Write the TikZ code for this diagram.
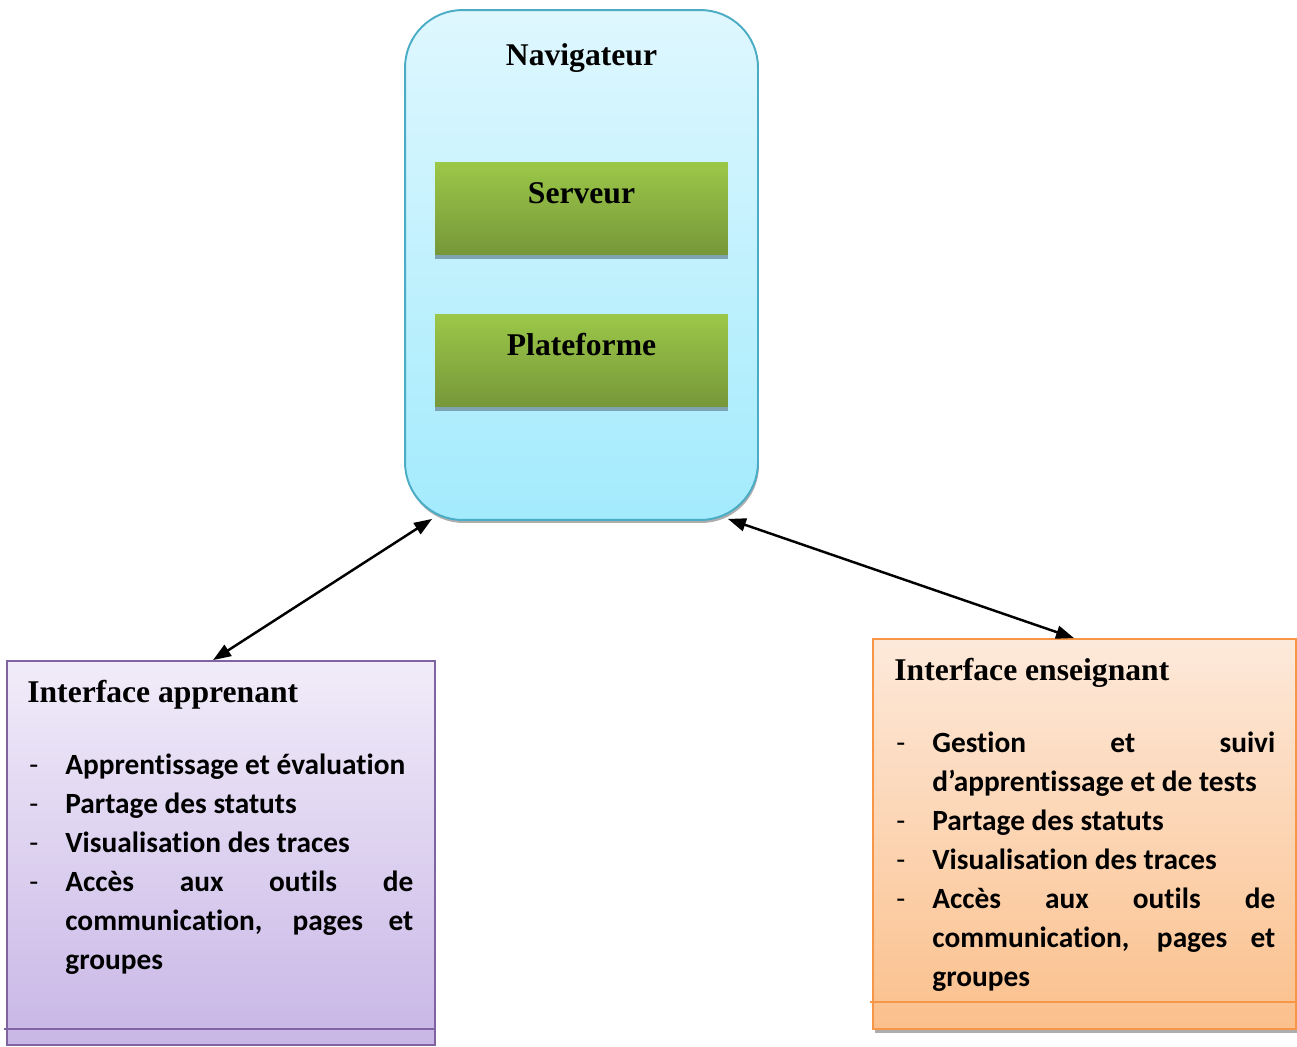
\documentclass[tikz,border=0pt]{standalone}
\usepackage{fontspec}
\setmainfont{Liberation Serif}
\newfontfamily\listfont[Ligatures=NoCommon]{Carlito}
\usepackage{tikz}
\usetikzlibrary{arrows.meta, calc, shadows}
\definecolor{navtop}{HTML}{DFF7FE}
\definecolor{navbottom}{HTML}{A3EBFD}
\definecolor{navborder}{HTML}{4BACC6}
\definecolor{greentop}{HTML}{9BC848}
\definecolor{greenbottom}{HTML}{77973A}
\definecolor{greenbar}{HTML}{7EA4B3}
\definecolor{learnertop}{HTML}{F1ECF9}
\definecolor{learnerbottom}{HTML}{C8B6E6}
\definecolor{learnerborder}{HTML}{8064A2}
\definecolor{teachertop}{HTML}{FDE9DA}
\definecolor{teacherbottom}{HTML}{FBC08C}
\definecolor{teacherborder}{HTML}{F79646}
\newlength{\dashindent}
\setlength{\dashindent}{0.76cm}
\newcommand{\dashitem}[1]{\noindent\hangindent=\dashindent\relax\hangafter=1\relax\strut\makebox[\dashindent][l]{\hspace{0.04cm}\mdseries -}#1\par}

\begin{document}
\begin{tikzpicture}[x=0.02cm, y=-0.02cm,
    titlefont/.style={font=\fontsize{18}{22}\selectfont\bfseries, inner sep=0pt},
    listtext/.style={font=\listfont\bfseries\fontsize{16.7}{22.2}\selectfont, anchor=north west, inner sep=0pt, align=justify},
    greenbox/.style={rectangle, top color=greentop, bottom color=greenbottom, minimum width=5.86cm, inner ysep=0pt, text height=0.82cm, text depth=1.04cm, font=\fontsize{18}{22}\selectfont\bfseries},
    link/.style={{Triangle[length=0.36cm,width=0.26cm]}-{Triangle[length=0.36cm,width=0.26cm]}, line width=1.4pt}]
    \useasboundingbox (0,0) rectangle (1297,1046);

    % Navigator
    \node[rectangle, rounded corners=1.15cm, draw=navborder, line width=1.1pt, top color=navtop, bottom color=navbottom, minimum width=7.06cm, minimum height=10.2cm, drop shadow={shadow xshift=0.02cm, shadow yshift=-0.06cm, fill=black!40, opacity=0.8}] (nav) at (581.5, 265) {};
    \node[titlefont, anchor=base] (navtitle) at (581.5, 65) {Navigateur};

    % Server and platform
    \node[greenbox] (srv) at (581.5, 208.5) {Serveur};
    \fill[greenbar] (srv.south west) rectangle ($(srv.south east)+(0,4)$);
    \node[greenbox] (plat) at (581.5, 360.5) {Plateforme};
    \fill[greenbar] (plat.south west) rectangle ($(plat.south east)+(0,4)$);

    % Learner interface
    \node[rectangle, draw=learnerborder, line width=1.1pt, top color=learnertop, bottom color=learnerbottom, minimum width=8.56cm, minimum height=7.68cm] (learner) at (221, 853) {};
    \draw[learnerborder, line width=1.1pt] ($(learner.south west)+(-2,-17)$) -- ($(learner.south east)+(-2,-17)$);
    \node[titlefont, anchor=base west] (learnertitle) at (27, 702) {Interface apprenant};
    \node[listtext, text width=7.72cm] (learnerlist) at (27, 746.6) {\hyphenpenalty=10000\relax
        \dashitem{Apprentissage et évaluation}
        \dashitem{Partage des statuts}
        \dashitem{Visualisation des traces}
        \dashitem{Accès aux outils de\linebreak communication, pages et\linebreak groupes}};

    % Teacher interface
    \node[rectangle, draw=teacherborder, line width=1.1pt, top color=teachertop, bottom color=teacherbottom, minimum width=8.46cm, minimum height=7.8cm, drop shadow={shadow xshift=0.03cm, shadow yshift=-0.08cm, fill=black!40, opacity=0.8}] (teacher) at (1084.5, 834) {};
    \draw[teacherborder, line width=1.1pt] ($(teacher.south west)+(-2,-28)$) -- ($(teacher.south east)+(-2,-28)$);
    \node[titlefont, anchor=base west] (teachertitle) at (894, 680) {Interface enseignant};
    \node[listtext, text width=7.62cm] (teacherlist) at (894, 725) {\hyphenpenalty=10000\relax
        \dashitem{Gestion et suivi\linebreak d’apprentissage et de tests}
        \dashitem{Partage des statuts}
        \dashitem{Visualisation des traces}
        \dashitem{Accès aux outils de\linebreak communication, pages et\linebreak groupes}};

    % Links
    \draw[link] ($(learner.north)+(-8,0)$) -- ($(nav.south west)+(28,-2)$);
    \draw[link] ($(nav.south east)+(-31,-2)$) -- ($(teacher.north)+(-10.5,0)$);
\end{tikzpicture}
\end{document}
